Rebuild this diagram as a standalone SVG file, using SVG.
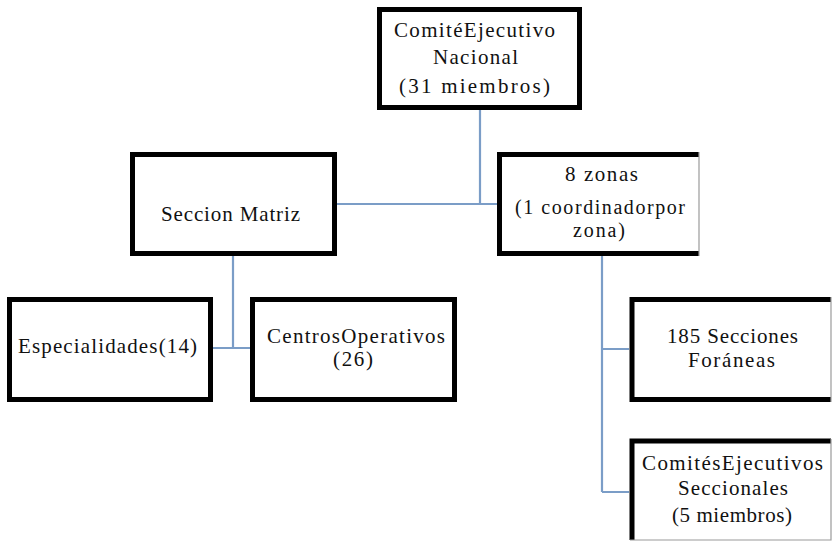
<svg xmlns="http://www.w3.org/2000/svg" width="832" height="542" viewBox="0 0 832 542">
<style>
.box{fill:#fff;stroke:#000;stroke-width:5;stroke-linejoin:miter}
.edge{fill:none;stroke:#000;stroke-width:5;stroke-linejoin:miter}
.cut{fill:none;stroke:#9a9a9a;stroke-width:1.2}
.conn{fill:none;stroke:#7b9dc7;stroke-width:2.2}
</style>
<rect width="832" height="542" fill="#fff"/>
<g id="connectors">
<path class="conn" d="M480,110 V204 M337,204 H497"/>
<path class="conn" d="M233,256 V348 M213,348 H250"/>
<path class="conn" d="M602,255 V492 M602,349 H629 M602,492 H629"/>
</g>
<g font-family="Liberation Serif, serif" font-size="21" fill="#111">
<g id="n-comite-nacional">
<rect class="box" x="379.5" y="9.5" width="200" height="98"/>
<text x="394" y="36.5" textLength="161" lengthAdjust="spacing">ComitéEjecutivo</text>
<text x="433" y="64" textLength="85" lengthAdjust="spacing">Nacional</text>
<text x="399" y="93" textLength="151" lengthAdjust="spacing">(31 miembros)</text>
</g>
<g id="n-seccion-matriz">
<rect class="box" x="132.5" y="154.5" width="202" height="99"/>
<text x="161" y="221" textLength="139" lengthAdjust="spacing">Seccion Matriz</text>
</g>
<g id="n-zonas">
<rect x="499.5" y="154.5" width="199.5" height="99" fill="#fff"/>
<path class="edge" d="M699,154.5 H499.5 V253.5 H699"/>
<line class="cut" x1="699" y1="152" x2="699" y2="256"/>
<text x="565" y="181" textLength="73" lengthAdjust="spacing">8 zonas</text>
<text x="515" y="214" font-size="20" textLength="170" lengthAdjust="spacing">(1 coordinadorpor</text>
<text x="573" y="237" font-size="20" textLength="52" lengthAdjust="spacing">zona)</text>
</g>
<g id="n-especialidades">
<rect class="box" x="9.5" y="299.5" width="201" height="100"/>
<text x="18" y="353" textLength="179" lengthAdjust="spacing">Especialidades(14)</text>
</g>
<g id="n-centros">
<rect class="box" x="252.5" y="299.5" width="202" height="100"/>
<text x="267" y="343" textLength="178" lengthAdjust="spacing">CentrosOperativos</text>
<text x="333" y="366" textLength="40" lengthAdjust="spacing">(26)</text>
</g>
<g id="n-secciones-foraneas">
<rect x="632" y="299.5" width="199" height="100" fill="#fff"/>
<path class="edge" d="M831,299.5 H632 V399.5 H831"/>
<line class="cut" x1="831" y1="297" x2="831" y2="402"/>
<text x="667" y="343" textLength="131" lengthAdjust="spacing">185 Secciones</text>
<text x="688" y="367" textLength="87" lengthAdjust="spacing">Foráneas</text>
</g>
<g id="n-comites-seccionales">
<rect x="632" y="441" width="199" height="99" fill="#fff"/>
<path class="edge" d="M831,441 H632 V540"/>
<path class="cut" d="M831,439 V540 H630"/>
<text x="642" y="470" textLength="181" lengthAdjust="spacing">ComitésEjecutivos</text>
<text x="678" y="495" textLength="110" lengthAdjust="spacing">Seccionales</text>
<text x="672" y="522" textLength="120" lengthAdjust="spacing">(5 miembros)</text>
</g>
</g>
</svg>
